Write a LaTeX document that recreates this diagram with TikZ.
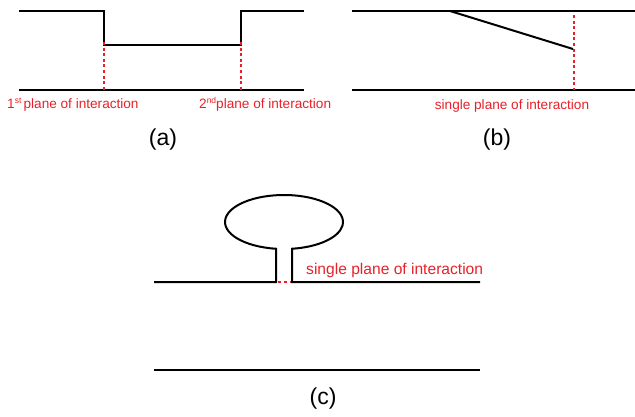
\documentclass[tikz,border=0pt]{standalone}
\usepackage{fontspec}
\setmainfont{Liberation Sans}
\definecolor{ired}{RGB}{232,32,42}
\begin{document}
\begin{tikzpicture}[x=1pt,y=-1pt,
  wall/.style={line width=2pt,black,line cap=butt,line join=miter},
  plane/.style={line width=2pt,ired,dash pattern=on 3pt off 2.6pt},
  lbl/.style={text=ired,font=\fontsize{13.6}{15}\selectfont,inner sep=0pt},
  lblc/.style={text=ired,font=\fontsize{15.6}{17}\selectfont,inner sep=0pt},
  captxt/.style={font=\fontsize{23}{26}\selectfont,inner sep=0pt}]
\useasboundingbox (0,0) rectangle (635,417);
% (a)
\coordinate (a1) at (19,11);
\coordinate (a2) at (104,11);
\coordinate (a3) at (104,45);
\coordinate (a4) at (241,45);
\coordinate (a5) at (241,11);
\coordinate (a6) at (304,11);
\coordinate (ab1) at (19,90);
\coordinate (ab2) at (304,90);
\coordinate (ap1) at (104,90);
\coordinate (ap2) at (241,90);
\draw[wall] (a1) -- (a2) -- (a3) -- (a4) -- (a5) -- (a6);
\draw[wall] (ab1) -- (ab2);
\draw[plane] ([yshift=3pt]a3) -- (ap1);
\draw[plane] ([yshift=3pt]a4) -- (ap2);
\node[lbl,anchor=base west] (la1) at (7,109) {1\raisebox{5pt}{\fontsize{8.5}{9}\selectfont st}\,plane of interaction};
\node[lbl,anchor=base west] (la2) at (199,109) {2\raisebox{5pt}{\fontsize{8.5}{9}\selectfont nd}plane of interaction};
\node[captxt] (ca) at (163,140) {(a)};
% (b)
\coordinate (b1) at (352,11);
\coordinate (b2) at (635,11);
\coordinate (bd1) at (450,11);
\coordinate (bd2) at (573,49);
\coordinate (bb1) at (352,90);
\coordinate (bb2) at (635,90);
\coordinate (bp1) at (574,15);
\coordinate (bp2) at (574,90);
\draw[wall] (b1) -- (b2);
\draw[wall] (bd1) -- (bd2);
\draw[wall] (bb1) -- (bb2);
\draw[plane] (bp1) -- (bp2);
\node[lbl,anchor=base] (lb) at (512,110) {single plane of interaction};
\node[captxt] (cb) at (497,140) {(b)};
% (c)
\coordinate (c1) at (154,282);
\coordinate (n1) at (276,282);
\coordinate (e1) at (276,248.75);
\coordinate (n2) at (292,282);
\coordinate (c2) at (480,282);
\coordinate (cb1) at (154,370);
\coordinate (cb2) at (480,370);
\draw[wall] (c1) -- (n1) -- (e1) arc[start angle=97.8, end angle=442.2, x radius=59, y radius=27] -- (n2) -- (c2);
\draw[wall] (cb1) -- (cb2);
\draw[plane,dash pattern=on 3pt off 3pt] ([xshift=2pt]n1) -- ([xshift=-1pt]n2);
\node[lblc,anchor=base west] (lc) at (306,274) {single plane of interaction};
\node[captxt] (cc) at (323,399) {(c)};
\end{tikzpicture}
\end{document}
